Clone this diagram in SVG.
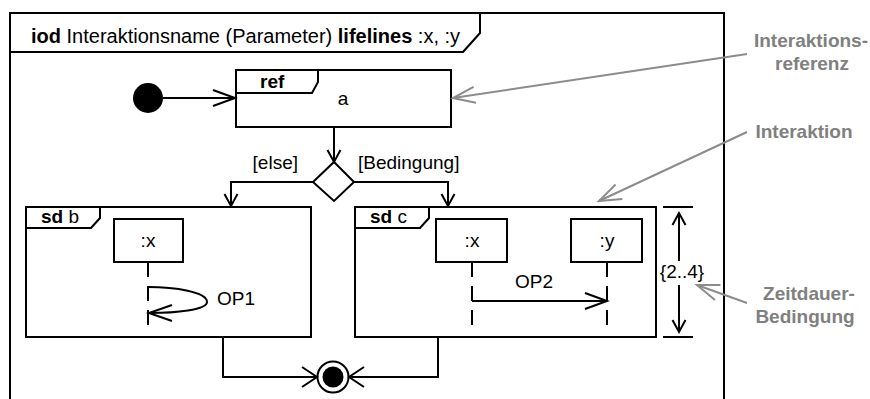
<svg xmlns="http://www.w3.org/2000/svg" width="870" height="399" viewBox="0 0 870 399">
  <style>
    .ln { fill: none; stroke: #000; stroke-width: 2; }
    .box { fill: #fff; stroke: #000; stroke-width: 2; }
    .life { fill: none; stroke: #000; stroke-width: 2; stroke-dasharray: 15 9; }
    .t { font-family: "Liberation Sans", Arial, sans-serif; font-size: 19px; fill: #000; }
    .hd { font-family: "Liberation Sans", Arial, sans-serif; font-size: 20px; fill: #000; }
    .b { font-weight: bold; }
    .note { font-family: "Liberation Sans", Arial, sans-serif; font-size: 19px; font-weight: bold; fill: #808080; }
    .gl { fill: none; stroke: #8c8c8c; stroke-width: 2; }
  </style>
  <defs>
    <marker id="aL" markerUnits="userSpaceOnUse" markerWidth="30" markerHeight="30" viewBox="-25 -15 30 30" refX="0" refY="0" orient="auto" overflow="visible">
      <path d="M-22,-8 L0,0 L-22,8" fill="none" stroke="#000" stroke-width="2"/>
    </marker>
    <marker id="aS" markerUnits="userSpaceOnUse" markerWidth="30" markerHeight="30" viewBox="-25 -15 30 30" refX="0" refY="0" orient="auto" overflow="visible">
      <path d="M-12,-6.5 L0,0 L-12,6.5" fill="none" stroke="#000" stroke-width="2"/>
    </marker>
    <marker id="aW" markerUnits="userSpaceOnUse" markerWidth="30" markerHeight="30" viewBox="-25 -15 30 30" refX="0" refY="0" orient="auto" overflow="visible">
      <path d="M-15,-10 L0,0 L-15,10" fill="none" stroke="#000" stroke-width="2"/>
    </marker>
    <marker id="aG" markerUnits="userSpaceOnUse" markerWidth="30" markerHeight="30" viewBox="-25 -15 30 30" refX="0" refY="0" orient="auto" overflow="visible">
      <path d="M-22,-8 L0,0 L-22,8" fill="none" stroke="#8c8c8c" stroke-width="2"/>
    </marker>
  </defs>

  <rect x="0" y="0" width="870" height="399" fill="#fff"/>

  <!-- outer frame -->
  <g id="frame">
    <path class="ln" d="M10,400 V13 H724 V400"/>
    <path class="ln" d="M10,52 H463 L480,33 V13"/>
    <text class="hd" x="31" y="43"><tspan class="b">iod</tspan> Interaktionsname (Parameter) <tspan class="b">lifelines</tspan> :x, :y</text>
  </g>

  <!-- initial node -->
  <g id="initial">
    <circle cx="148" cy="98" r="15" fill="#000"/>
  </g>

  <!-- interaction use ref a -->
  <g id="ref-a">
    <rect class="box" x="236" y="70" width="215" height="57"/>
    <path class="ln" d="M236,93 H312 L318,82 V70"/>
    <text class="t b" x="260" y="88">ref</text>
    <text class="t" x="343" y="105" text-anchor="middle">a</text>
  </g>

  <!-- decision -->
  <g id="decision">
    <polygon class="box" points="334,162 354,182 334,201 313,182"/>
  </g>

  <!-- sd b -->
  <g id="sd-b">
    <rect class="box" x="26" y="207" width="285" height="130"/>
    <path class="ln" d="M26,228 H91 L100,218 V207"/>
    <text class="t" x="41" y="223"><tspan class="b">sd</tspan> b</text>
    <rect class="box" x="114" y="219" width="69" height="43"/>
    <text class="t" x="148" y="247" text-anchor="middle">:x</text>
    <path class="life" d="M148,262 V326"/>
    <path class="ln" d="M148,287 C175,287 207,292 207,302 C207,310 175,313 150,313"/>
    <path class="ln" d="M172,305 L149,313 L172,321"/>
    <text class="t" x="217" y="305">OP1</text>
  </g>

  <!-- sd c -->
  <g id="sd-c">
    <rect class="box" x="355" y="207" width="301" height="130"/>
    <path class="ln" d="M355,228 H420 L429,218 V207"/>
    <text class="t" x="370" y="223"><tspan class="b">sd</tspan> c</text>
    <rect class="box" x="436" y="219" width="71" height="43"/>
    <text class="t" x="472" y="247" text-anchor="middle">:x</text>
    <rect class="box" x="571" y="219" width="71" height="43"/>
    <text class="t" x="607" y="247" text-anchor="middle">:y</text>
    <path class="life" d="M472,262 V326"/>
    <path class="life" d="M607,262 V326"/>
    <path class="ln" d="M472,301 H607" marker-end="url(#aL)"/>
    <text class="t" x="534" y="288" text-anchor="middle">OP2</text>
  </g>

  <!-- final node -->
  <g id="final">
    <circle cx="333" cy="377" r="15.5" fill="#fff" stroke="#000" stroke-width="2"/>
    <circle cx="333" cy="377" r="10.5" fill="#000"/>
  </g>

  <!-- duration constraint -->
  <g id="duration">
    <path class="ln" d="M663,207 H693 M663,337 H693"/>
    <path class="ln" d="M679,261 V213" marker-end="url(#aS)"/>
    <path class="ln" d="M679,285 V332" marker-end="url(#aS)"/>
    <text class="t" x="682" y="278" text-anchor="middle">{2..4}</text>
  </g>

  <!-- connectors -->
  <g id="connectors">
    <path class="ln" d="M163,98 H235" marker-end="url(#aL)"/>
    <path class="ln" d="M334,127 V162" marker-end="url(#aS)"/>
    <path class="ln" d="M313,182 H231 V206" marker-end="url(#aS)"/>
    <path class="ln" d="M354,182 H448 V206" marker-end="url(#aS)"/>
    <text class="t" x="298" y="169" text-anchor="end">[else]</text>
    <text class="t" x="358" y="169">[Bedingung]</text>
    <path class="ln" d="M223,337 V377 H317" marker-end="url(#aW)"/>
    <path class="ln" d="M438,337 V377 H349" marker-end="url(#aW)"/>
  </g>

  <!-- annotations -->
  <g id="annotations">
    <path class="gl" d="M747,54 L453,98" marker-end="url(#aG)"/>
    <path class="gl" d="M747,132 L599,201" marker-end="url(#aG)"/>
    <path class="gl" d="M747,303 L697,285" marker-end="url(#aG)"/>
    <text class="note" x="811" y="47" text-anchor="middle">Interaktions-</text>
    <text class="note" x="812" y="70" text-anchor="middle">referenz</text>
    <text class="note" x="804" y="138" text-anchor="middle">Interaktion</text>
    <text class="note" x="809" y="300" text-anchor="middle">Zeitdauer-</text>
    <text class="note" x="805" y="323" text-anchor="middle">Bedingung</text>
  </g>
</svg>
